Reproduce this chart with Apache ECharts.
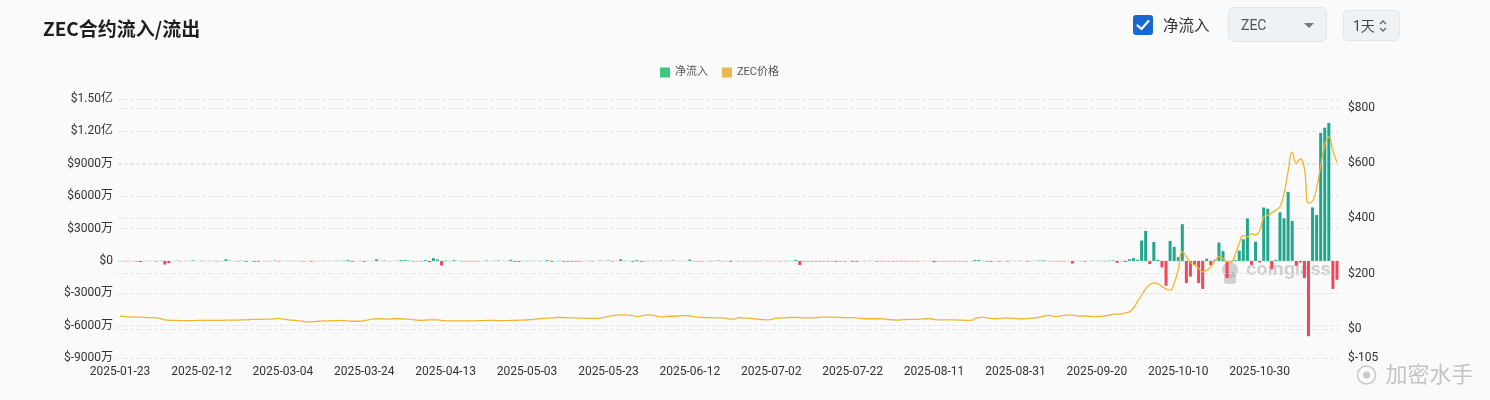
<!DOCTYPE html>
<html>
<head>
<meta charset="utf-8">
<script src="https://cdn.jsdelivr.net/npm/echarts@6/dist/echarts.min.js"></script>
<style>
  html,body{margin:0;padding:0;background:#fafafa;}
  #wrap{position:relative;width:1490px;height:400px;overflow:hidden;background:#fafafa;font-family:Roboto,"Noto Sans CJK SC",sans-serif;}
  #chart{position:absolute;left:0;top:0;width:1490px;height:400px;}
  .ctl{position:absolute;box-sizing:border-box;}
  #chk{left:1133px;top:15px;width:20px;height:20px;border-radius:3px;background:#1769d1;}
  #chklbl{left:1163px;top:15px;font-size:15.5px;line-height:22px;color:#333;}
  #sel{left:1228px;top:7px;width:99px;height:35px;border-radius:6px;background:#eef2f5;border:1px solid #dfe5ea;}
  #sel span{position:absolute;left:12px;top:8px;font-size:14px;line-height:18px;color:#555;}
  #sel i{position:absolute;left:75px;top:15px;width:0;height:0;border-left:5px solid transparent;border-right:5px solid transparent;border-top:5px solid #777;}
  #per{left:1343px;top:10px;width:57px;height:31px;border-radius:5px;background:#eef2f5;border:1px solid #e2e7eb;}
  #per span{position:absolute;left:9px;top:6px;font-size:14px;line-height:18px;color:#444;}
</style>
</head>
<body>
<div id="wrap">
  <div id="chart"></div>
  <div class="ctl" id="chk"><svg width="20" height="20" viewBox="0 0 20 20"><polyline points="4.5,10.5 8.5,14 15.5,6" fill="none" stroke="#fff" stroke-width="2.2" stroke-linecap="round" stroke-linejoin="round"/></svg></div>
  <div class="ctl" id="chklbl">净流入</div>
  <div class="ctl" id="sel"><span>ZEC</span><i></i></div>
  <div class="ctl" id="per"><span>1天</span><svg style="position:absolute;left:34px;top:7px" width="10" height="16" viewBox="0 0 10 16"><polyline points="2,6 5,3 8,6" fill="none" stroke="#666" stroke-width="1.3"/><polyline points="2,10 5,13 8,10" fill="none" stroke="#666" stroke-width="1.3"/></svg></div>
</div>
<script>
// Net inflow per day, in millions of USD (1亿 = 100)
const netflow = [
  0.2,-0.3,-0.3,0.1,-0.5,-1,0.1,-0.2,0.1,-0.5,0.2,-3.4,-2,0.1,0.3,-0.3,0.1,0.2,0.5,0.1,
  -0.3,0.1,0.2,-0.3,-0.3,0.1,1.5,0.4,0.1,-0.5,0.2,-0.8,0.1,-0.8,-0.8,0.1,-0.4,0.2,0.4,-0.4,
  0.1,0.2,-0.2,0.1,0.2,-0.4,0.1,-0.6,-0.2,0.1,0.2,-0.2,0.1,0.2,-0.2,0.3,0.8,-0.8,0.1,0.2,
  -0.8,0.2,0.1,1.5,0.2,0.4,-0.2,0.1,0.2,0.8,0.8,0.4,-0.4,-0.4,-0.4,0.8,-1.2,2.5,1.2,-4.3,
  0.4,0.1,0.8,0.2,-0.4,-0.4,-0.4,-0.4,-0.4,0.1,0.4,0.1,0.2,0.4,0.1,0.2,1,-0.8,-0.8,0.1,
  0.2,0.3,0.1,-0.2,0.2,0.8,-0.8,0.1,0.2,-0.6,-0.6,-0.6,-0.6,-0.6,0.1,0.2,-0.4,0.1,0.4,0.2,
  0.4,-0.4,0.1,1.5,0.2,0.1,-0.8,0.8,-0.8,-0.4,0.1,0.2,-0.2,0.4,0.1,0.2,0.4,0.1,-0.2,0.1,
  1.2,-0.4,-0.4,-0.4,0.1,-0.4,0.2,0.4,-0.4,0.1,-0.8,0.1,-0.3,-0.3,-0.3,0.1,-0.3,-0.3,0.1,-0.3,
  -0.3,0.1,-0.3,-0.3,-0.3,0.2,1,-3.8,-0.5,-0.5,-0.5,-0.5,-0.5,-0.5,-0.5,-0.5,-0.8,-0.4,-0.5,0.1,
  -0.8,-0.8,0.1,-0.3,0.2,0.1,-0.6,-0.4,-0.4,-0.4,-0.4,-0.4,-0.4,-0.4,-0.4,-0.4,-0.4,0.1,-0.2,0.1,
  -1.2,-0.4,-0.4,-0.4,-0.4,-0.4,-0.4,-0.4,-0.4,0.1,0.8,0.8,0.1,-0.6,-0.8,0.1,-0.6,0.1,-0.6,0.1,
  0.1,0.2,0.1,-0.6,0.1,0.2,0.5,0.5,0.1,-0.4,-0.4,-0.4,-0.4,0.1,-2.5,0.1,0.2,-0.6,0.1,0.2,
  0.1,0.2,-0.4,0.3,0.5,-1.8,-0.3,-1,1.5,2.5,1,18.8,27.7,-3,17.5,1,-6,-23,18.5,13,
  3.4,34,-20.6,-14.5,-4,-20.6,-26,2,-4,1,17,9,-16,-0.5,0.8,9.5,20,39.4,-3.7,17.8,
  -1.5,49.5,48.3,-7.7,1,45,39.4,64,37,-4.6,-1.5,-16,-69.8,49.5,42.5,118.5,123.4,127.7,-26,-17.5
];
// ZEC price, USD
const price = [
  47,45,44,43,43,42,42,41,41,40,37,33,32,31,31,30,30,30,30,31,
  31,31,31,31,31,31,32,32,32,32,33,33,34,35,35,35,36,36,37,38,
  36,34,32,31,29,28,26,26,27,28,29,29,30,30,31,30,29,28,28,28,
  30,33,36,37,37,36,36,37,37,37,36,36,34,32,31,32,33,33,33,31,
  30,29,29,29,29,29,29,29,30,30,31,31,31,30,30,30,31,31,32,32,
  33,34,36,37,38,39,40,41,42,41,41,40,40,39,39,38,38,38,39,42,
  45,48,50,51,51,50,48,45,47,50,51,49,46,44,45,46,46,47,48,48,
  47,45,43,42,41,41,40,40,40,38,36,36,41,40,39,38,37,35,34,33,
  35,38,39,40,41,42,42,41,40,40,40,41,42,43,43,43,42,42,41,41,
  41,40,38,37,37,37,37,37,36,34,33,32,33,34,35,35,35,36,37,37,
  35,33,33,33,33,33,32,32,31,31,37,41,42,40,38,37,38,39,40,39,
  38,37,37,38,39,40,43,46,49,47,45,47,49,51,50,48,47,47,46,45,
  45,46,47,50,54,53,55,58,62,75,100,122,145,160,167,163,154,145,140,165,
  215,280,262,240,232,220,207,212,225,245,262,255,243,243,270,310,338,333,345,340,
  355,405,412,420,430,442,490,570,640,600,615,580,455,462,510,590,665,695,645,603
];
const startDate = '2025-01-23';
const leftTicks = { min: -90, max: 150, interval: 30 };
const rightTickLabels = [-105, 0, 200, 400, 600, 800];
const rightRange = { min: -105, max: 832 };

// categories: consecutive days from startDate
const dates = [];
(function(){
  const d0 = new Date(startDate + 'T00:00:00Z');
  for (let i = 0; i < netflow.length; i++) {
    const d = new Date(d0.getTime() + i * 86400000);
    dates.push(d.toISOString().slice(0, 10));
  }
})();

const UP = '#21a68b', DOWN = '#f4465b';
const barData = netflow.map(v => ({ value: v, itemStyle: { color: v >= 0 ? UP : DOWN } }));
const FONT = 'Roboto, "Noto Sans CJK SC", sans-serif';

const chart = echarts.init(document.getElementById('chart'), null, { renderer: 'canvas' });
chart.setOption({
  backgroundColor: '#fafafa',
  animation: false,
  title: {
    text: 'ZEC合约流入/流出', left: 38, top: 14,
    textStyle: { fontSize: 19, fontWeight: 'bold', color: '#1e1e1e', fontFamily: '"Noto Sans CJK SC", sans-serif' }
  },
  legend: {
    left: 655, top: 62, itemWidth: 10, itemHeight: 10, itemGap: 14,
    icon: 'rect',
    textStyle: { fontSize: 11, color: '#555', fontFamily: FONT },
    data: ['净流入', 'ZEC价格']
  },
  grid: { left: 118, right: 151, top: 99, bottom: 42 },
  xAxis: {
    type: 'category', data: dates, boundaryGap: true,
    axisLine: { show: false }, axisTick: { show: false },
    axisLabel: { interval: 19, color: '#333', fontSize: 12, margin: 8, fontFamily: FONT }
  },
  yAxis: [
    {
      type: 'value', min: leftTicks.min, max: leftTicks.max, interval: leftTicks.interval,
      axisLine: { show: false }, axisTick: { show: false },
      axisLabel: {
        color: '#333', fontSize: 12, margin: 5, fontFamily: FONT,
        formatter: v => v === 0 ? '$0' : (Math.abs(v) >= 100 ? '$' + (v / 100).toFixed(2) + '亿' : '$' + Math.round(v * 100) + '万')
      },
      splitLine: { lineStyle: { type: 'dashed', color: '#e6e6e6' } }
    },
    {
      type: 'value', min: rightRange.min, max: rightRange.max, position: 'right',
      axisLine: { show: false },
      axisTick: { show: false, customValues: rightTickLabels },
      axisLabel: { color: '#333', fontSize: 12, margin: 9, fontFamily: FONT, customValues: rightTickLabels, formatter: v => '$' + v },
      splitLine: { show: true, lineStyle: { type: 'dashed', color: '#e6e6e6' } }
    }
  ],
  series: [
    {
      name: '净流入', type: 'bar', data: barData, barWidth: 3, yAxisIndex: 0,
      itemStyle: { color: '#3cc87a' }
    },
    {
      name: 'ZEC价格', type: 'line', data: price, yAxisIndex: 1, smooth: true,
      showSymbol: false, symbol: 'none',
      itemStyle: { color: '#e9b850' },
      lineStyle: { color: '#f0b630', width: 1.3 }
    }
  ],
  graphic: [
    {
      type: 'group', left: 1222, top: 261, silent: true,
      children: [
        { type: 'circle', shape: { cx: 11, cy: 10, r: 8 }, style: { fill: 'rgba(160,160,160,0.45)' } },
        { type: 'rect', shape: { x: 5, y: 12, width: 12, height: 12, r: 3 }, style: { fill: 'rgba(160,160,160,0.45)' } },
        { type: 'text', x: 27, y: 1, style: { text: 'coinglass', fontSize: 18, fontWeight: 'bold', fill: 'rgba(165,165,165,0.5)', fontFamily: 'Inter, sans-serif' } }
      ]
    },
    {
      type: 'group', left: 1355, top: 363, silent: true,
      children: [
        { type: 'circle', shape: { cx: 11, cy: 12, r: 9 }, style: { fill: 'none', stroke: '#c8c8c8', lineWidth: 1.5 } },
        { type: 'circle', shape: { cx: 11, cy: 12, r: 3.5 }, style: { fill: '#c8c8c8' } },
        { type: 'text', x: 30, y: 0, style: { text: '加密水手', fontSize: 22, fill: '#c4c4c4', fontFamily: '"Noto Sans CJK SC", sans-serif' } }
      ]
    }
  ]
});
</script>
</body>
</html>
